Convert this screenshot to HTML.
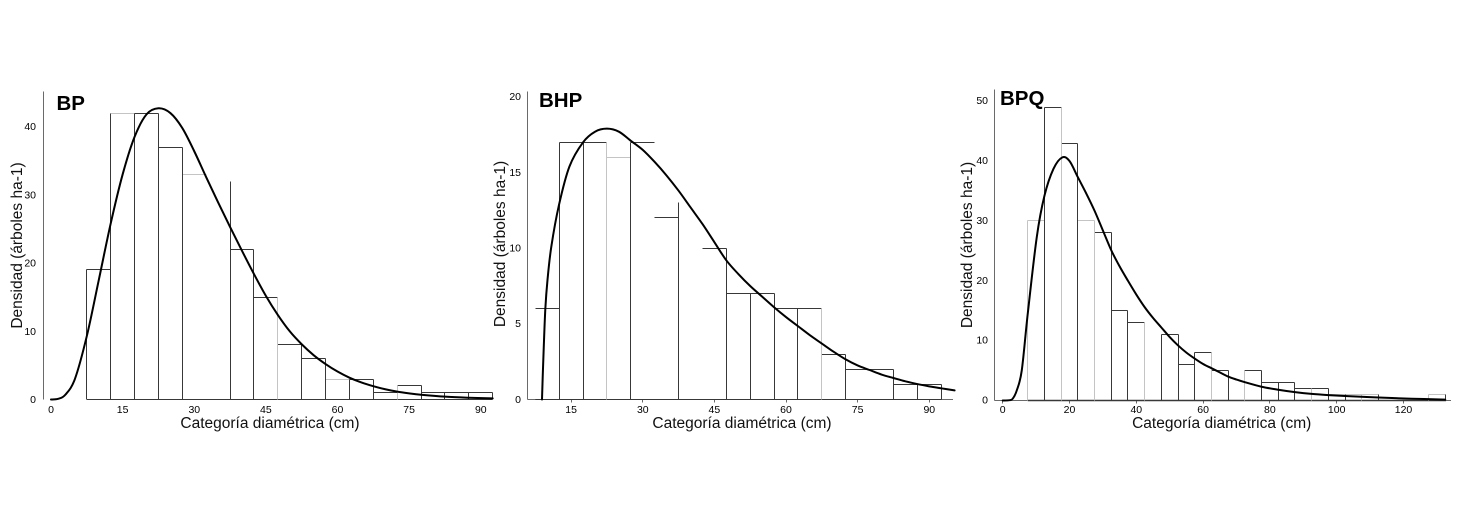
<!DOCTYPE html>
<html><head><meta charset="utf-8">
<style>
html,body{margin:0;padding:0;background:#fff;}
svg{display:block;}
text{font-family:"Liberation Sans",sans-serif;fill:#111;}
.t{font-size:10.5px;fill:#000;}
.lab{font-size:15.5px;fill:#111;}
.ttl{font-size:20.5px;font-weight:bold;fill:#000;}
</style></head><body>
<svg id="s" width="1465" height="519" viewBox="0 0 1465 519" xmlns="http://www.w3.org/2000/svg">
<rect width="1465" height="519" fill="#fff"/>
<g id="g"></g>

<!-- Panel 1 -->
<text class="ttl" x="56.5" y="110">BP</text>
<g text-anchor="end">
<text class="t" x="36" y="403">0</text>
<text class="t" x="36" y="334.8">10</text>
<text class="t" x="36" y="266.6">20</text>
<text class="t" x="36" y="198.4">30</text>
<text class="t" x="36" y="130.2">40</text>
</g>
<g text-anchor="middle">
<text class="t" x="51" y="413">0</text>
<text class="t" x="122.6" y="413">15</text>
<text class="t" x="194.3" y="413">30</text>
<text class="t" x="265.9" y="413">45</text>
<text class="t" x="337.5" y="413">60</text>
<text class="t" x="409.1" y="413">75</text>
<text class="t" x="480.8" y="413">90</text>
<text class="lab" x="270" y="428">Categoría diamétrica (cm)</text>
<text class="lab" transform="translate(22,245.5) rotate(-90)">Densidad (árboles ha-1)</text>
</g>

<!-- Panel 2 -->
<text class="ttl" x="539" y="107">BHP</text>
<g text-anchor="end">
<text class="t" x="521" y="402.8">0</text>
<text class="t" x="521" y="327.2">5</text>
<text class="t" x="521" y="251.5">10</text>
<text class="t" x="521" y="175.9">15</text>
<text class="t" x="521" y="100.2">20</text>
</g>
<g text-anchor="middle">
<text class="t" x="571.1" y="413">15</text>
<text class="t" x="642.8" y="413">30</text>
<text class="t" x="714.4" y="413">45</text>
<text class="t" x="786" y="413">60</text>
<text class="t" x="857.6" y="413">75</text>
<text class="t" x="929.3" y="413">90</text>
<text class="lab" x="742" y="428">Categoría diamétrica (cm)</text>
<text class="lab" transform="translate(505,244) rotate(-90)">Densidad (árboles ha-1)</text>
</g>

<!-- Panel 3 -->
<text class="ttl" x="1000" y="105">BPQ</text>
<g text-anchor="end">
<text class="t" x="988" y="403.5">0</text>
<text class="t" x="988" y="343.6">10</text>
<text class="t" x="988" y="283.8">20</text>
<text class="t" x="988" y="223.9">30</text>
<text class="t" x="988" y="164.1">40</text>
<text class="t" x="988" y="104.2">50</text>
</g>
<g text-anchor="middle">
<text class="t" x="1002.7" y="413">0</text>
<text class="t" x="1069.5" y="413">20</text>
<text class="t" x="1136.3" y="413">40</text>
<text class="t" x="1203.1" y="413">60</text>
<text class="t" x="1269.9" y="413">80</text>
<text class="t" x="1336.7" y="413">100</text>
<text class="t" x="1403.5" y="413">120</text>
<text class="lab" x="1221.7" y="428">Categoría diamétrica (cm)</text>
<text class="lab" transform="translate(972,245) rotate(-90)">Densidad (árboles ha-1)</text>
</g>
</svg>
<script>
(function(){
const NS="http://www.w3.org/2000/svg";
const g=document.getElementById('g');
function el(tag,attrs){const e=document.createElementNS(NS,tag);for(const k in attrs)e.setAttribute(k,attrs[k]);g.appendChild(e);return e;}
function line(x1,y1,x2,y2,c,w){el('line',{x1:x1,y1:y1,x2:x2,y2:y2,stroke:c,'stroke-width':w||1});}
const D='#383838',L='#c4c4c4',AX='#6a6a6a';
function r(v){return Math.round(v-0.5)+0.5;}
function cr(P){
  let d='M'+P[0][0].toFixed(2)+','+P[0][1].toFixed(2);
  for(let i=0;i<P.length-1;i++){
    const p0=P[i-1]||P[i],p1=P[i],p2=P[i+1],p3=P[i+2]||P[i+1];
    const c1=[p1[0]+(p2[0]-p0[0])/6,p1[1]+(p2[1]-p0[1])/6];
    const c2=[p2[0]-(p3[0]-p1[0])/6,p2[1]-(p3[1]-p1[1])/6];
    d+=' C'+c1[0].toFixed(2)+','+c1[1].toFixed(2)+' '+c2[0].toFixed(2)+','+c2[1].toFixed(2)+' '+p2[0].toFixed(2)+','+p2[1].toFixed(2);
  }
  return d;
}
function panel(p){
  const X=v=>p.x0+p.sx*v, Y=v=>p.y0-p.sy*v;
  line(p.ax,p.axTop,p.ax,p.y0,AX,1);
  if(p.xAxisFrom!==undefined) line(p.xAxisFrom,p.y0,p.xAxisTo,p.y0,AX,1);
  if(p.ticks) p.ticks.forEach(t=>line(r(X(t)),p.y0,r(X(t)),p.y0+3,AX,1));
  line(X(7.5),p.y0,p.barEnd,p.y0,D,p.bw||1);
  p.bars.forEach(b=>{ if(b[2]!=='n') line(r(X(b[0])),r(Y(b[1])),r(X(b[0]+5)),r(Y(b[1])), b[2]==='l'?L:D,1); });
  p.edges.forEach(e=>{ line(r(X(e[0])),p.y0,r(X(e[0])),r(Y(e[1])), e[2]==='l'?L:D,1); });
  const pts=p.curve.map(c=>[X(c[0]),Y(c[1])]);
  el('path',{d:cr(pts),fill:'none',stroke:'#000','stroke-width':2,'stroke-linejoin':'round','stroke-linecap':'round'});
}
panel({x0:51,sx:4.775,y0:399.5,sy:6.82,ax:43.5,axTop:91.5,barEnd:492.5,
 bars:[[7.5,19,'d'],[12.5,42,'l'],[17.5,42,'d'],[22.5,37,'d'],[27.5,33,'l'],[32.5,32,'n'],[37.5,22,'d'],[42.5,15,'d'],[47.5,8,'d'],[52.5,6,'d'],[57.5,3,'l'],[62.5,3,'d'],[67.5,1,'d'],[72.5,2,'d'],[77.5,1,'d'],[82.5,1,'d'],[87.5,1,'d']],
 edges:[[7.5,19],[12.5,42],[17.5,42],[22.5,42],[27.5,37],[37.5,32],[42.5,22],[47.5,15,'l'],[52.5,8],[57.5,6],[62.5,3],[67.5,3],[72.5,2,'l'],[77.5,2],[82.5,1],[87.5,1],[92.5,1]],
 curve:[[0,0],[1.5,0.1],[3,0.7],[5,3.0],[7.5,9.3],[10,17.5],[12.5,25.8],[15,33],[17.5,38.5],[20,41.8],[22.5,42.7],[25,42.0],[27.5,39.8],[30,36.4],[32.5,32.6],[35,28.9],[37.5,25.3],[40,21.8],[42.5,18.4],[45,15.2],[47.5,12.4],[50,10],[52.5,8.1],[55,6.5],[57.5,5.2],[60,4.1],[62.5,3.2],[65,2.5],[67.5,1.95],[70,1.5],[72.5,1.15],[75,0.9],[77.5,0.7],[82.5,0.42],[87.5,0.26],[92.5,0.16]]
});
panel({x0:499.5,sx:4.775,y0:399.5,sy:15.13,ax:527.5,axTop:91.5,xAxisFrom:527.5,xAxisTo:953,barEnd:941.5,
 ticks:[15,30,45,60,75,90],
 bars:[[7.5,6,'d'],[12.5,17,'d'],[17.5,17,'d'],[22.5,16,'l'],[27.5,17,'d'],[32.5,12,'d'],[37.5,13,'n'],[42.5,10,'d'],[47.5,7,'d'],[52.5,7,'d'],[57.5,6,'d'],[62.5,6,'d'],[67.5,3,'d'],[72.5,2,'d'],[77.5,2,'d'],[82.5,1,'d'],[87.5,1,'d']],
 edges:[[12.5,17],[17.5,17],[22.5,17,'l'],[27.5,17],[37.5,13],[47.5,10],[52.5,7],[57.5,7],[62.5,6],[67.5,6,'l'],[72.5,3],[82.5,2],[87.5,1],[92.5,1]],
 curve:[[8.9,0],[9.05,1.5],[9.25,3.3],[9.6,6],[10.05,7.9],[10.85,10.1],[12.45,12.85],[14.65,15.4],[17.5,17.0],[20,17.7],[22.5,17.9],[25,17.7],[27.5,17.1],[30,16.5],[32.5,15.7],[35,14.8],[37.5,13.8],[40,12.7],[42.5,11.6],[45,10.4],[47.5,9.2],[50,8.3],[52.5,7.5],[55,6.8],[57.5,6.1],[60,5.45],[62.5,4.85],[65,4.25],[67.5,3.7],[70,3.15],[72.5,2.65],[75,2.25],[77.5,1.95],[80,1.65],[82.5,1.42],[85,1.2],[87.5,1.02],[90,0.87],[92.5,0.74],[95.3,0.6]]
});
panel({x0:1002.7,sx:3.34,y0:400.5,sy:5.986,ax:994.5,axTop:89.5,xAxisFrom:994.5,xAxisTo:1451,barEnd:1446,bw:1.6,
 ticks:[0,20,40,60,80,100,120],
 bars:[[7.5,30,'l'],[12.5,49,'d'],[17.5,43,'d'],[22.5,30,'l'],[27.5,28,'d'],[32.5,15,'d'],[37.5,13,'d'],[47.5,11,'d'],[52.5,6,'d'],[57.5,8,'d'],[62.5,5,'d'],[72.5,5,'d'],[77.5,3,'d'],[82.5,3,'d'],[87.5,2,'d'],[92.5,2,'d'],[97.5,1,'l'],[102.5,1,'l'],[107.5,1,'l'],[127.5,1,'l']],
 edges:[[7.5,30,'l'],[12.5,49],[17.5,49,'l'],[22.5,43],[27.5,30,'l'],[32.5,28],[37.5,15],[42.5,13,'l'],[47.5,11],[52.5,11],[57.5,8],[62.5,8,'l'],[67.5,5],[72.5,5,'l'],[77.5,5],[82.5,3],[87.5,3],[92.5,2,'l'],[97.5,2],[102.5,1],[107.5,1,'l'],[112.5,1],[127.5,1,'l'],[132.5,1]],
 curve:[[0,0],[2,0.05],[3,0.3],[4.2,1.67],[5.7,5],[7.5,14.5],[10.2,27.3],[12.5,34.2],[15.2,38.7],[17.8,40.6],[20,40.0],[22.5,37.3],[25,34.6],[27.5,31.7],[30,28.4],[32.5,25.1],[35,22.4],[37.5,20],[40,17.7],[42.5,15.6],[45,13.8],[47.5,12.2],[50,10.6],[52.5,9.2],[55,8.0],[57.5,7.0],[60,6.1],[62.5,5.4],[65,4.7],[67.5,4.0],[70,3.5],[72.5,3.06],[77.5,2.3],[82.5,1.8],[87.5,1.4],[92.5,1.1],[97.5,0.9],[102.5,0.75],[112.5,0.5],[122.5,0.3],[132.5,0.15]]
});
})();
</script>
</body></html>
